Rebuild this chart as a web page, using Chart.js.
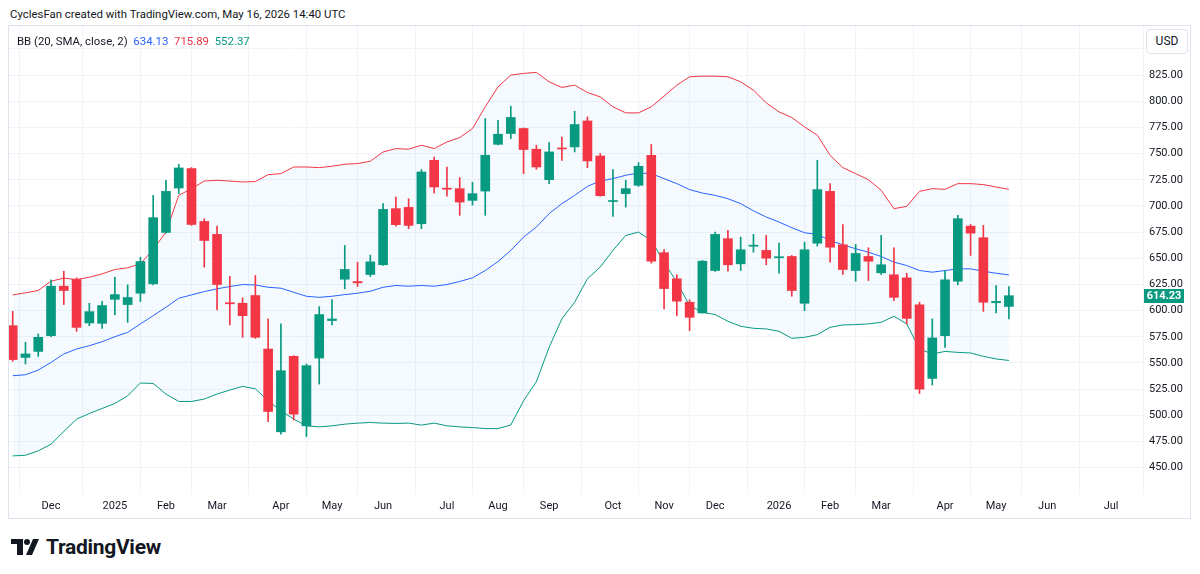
<!DOCTYPE html>
<html>
<head>
<meta charset="utf-8">
<script src="https://cdn.jsdelivr.net/npm/chart.js@4.4.1/dist/chart.umd.min.js"></script>
<style>
    body { margin: 0; width: 1200px; height: 574px; background: #fff; font-family: Roboto, sans-serif; color: #131722; position: relative; overflow: hidden; }
    #title { position: absolute; left: 10px; top: 7px; font-size: 11.4px; color: #131722; }
    #frame { position: absolute; left: 8px; top: 25px; width: 1181px; height: 492px; border: 1px solid #e0e3eb; }
    #chart-wrap { position: absolute; left: 0; top: 0; width: 1181px; height: 492px; }
    #legend { position: absolute; left: 8px; top: 8px; font-size: 11.4px; white-space: pre; }
    #usd { position: absolute; left: 1137px; top: 3px; width: 40px; height: 23px; border: 1px solid #e0e3eb; border-radius: 4px; background: #fff; font-size: 12px; line-height: 23px; text-align: center; }
    #logo { position: absolute; left: 11px; top: 535px; height: 24px; display: flex; align-items: center; }
    #logo span { font-size: 21px; font-weight: 700; margin-left: 7px; letter-spacing: -0.3px; }
</style>
</head>
<body>
<div id="title">CyclesFan created with TradingView.com, May 16, 2026 14:40 UTC</div>
<div id="frame">
    <div id="chart-wrap"><canvas id="bbChart"></canvas></div>
    <div id="legend">BB (20, SMA, close, 2)  <span style="color:#2962FF">634.13</span>  <span style="color:#F23645">715.89</span>  <span style="color:#089981">552.37</span></div>
    <div id="usd">USD</div>
</div>
<div id="logo">
    <svg width="28" height="16" viewBox="0 0 28 16">
        <path d="M0 0H12V16H6V5H0Z" fill="#131722"/>
        <circle cx="16" cy="3" r="3" fill="#131722"/>
        <path d="M22 0H28L21 16H15Z" fill="#131722"/>
    </svg>
    <span>TradingView</span>
</div>

<script>
// weekly candles, week of Nov 11 2024 (index 0) to week of May 11 2026 (index 78)
const opens = [585.6, 555.3, 561.0, 576.1, 623.3, 629.7, 588.2, 587.9, 610.8, 605.8, 616.6, 625.6, 674.7, 717.1, 735.7, 685.2, 672.8, 607.5, 607.0, 614.4,
    563.3, 484.2, 556.3, 489.9, 554.7, 590.5, 630.0, 627.8, 634.5, 643.8, 697.4, 698.6, 683.0, 743.6, 717.0, 716.5, 705.3, 714.2, 758.9, 769.2,
    774.0, 754.2, 725.1, 755.2, 756.4, 781.2, 747.7, 704.2, 711.7, 719.7, 748.4, 655.3, 630.4, 608.0, 597.8, 638.3, 668.7, 644.7, 661.5, 657.5,
    650.5, 651.7, 607.0, 664.4, 713.9, 662.9, 638.3, 651.7, 636.1, 634.2, 631.3, 605.5, 535.2, 576.1, 628.1, 680.7, 669.6, 607.5, 604.0];
const highs = [599.3, 569.7, 577.7, 629.4, 637.6, 631.3, 607.0, 608.9, 631.9, 624.6, 651.0, 710.1, 724.5, 739.8, 736.6, 687.8, 680.7, 632.6, 612.2, 633.5,
    592.1, 587.3, 556.9, 549.0, 603.8, 610.5, 662.2, 646.3, 653.0, 702.2, 708.5, 706.9, 734.7, 746.8, 737.2, 727.1, 722.6, 783.5, 781.9, 795.3,
    774.5, 758.0, 760.6, 765.9, 790.5, 785.1, 750.0, 734.7, 724.5, 741.4, 758.7, 658.4, 634.2, 610.3, 647.9, 675.0, 676.6, 670.2, 672.8, 671.8,
    664.4, 652.7, 665.4, 743.6, 721.3, 682.3, 663.2, 660.0, 671.8, 660.0, 635.7, 608.0, 592.1, 638.3, 691.0, 682.3, 681.4, 623.9, 623.0];
const lows = [551.5, 549.0, 556.3, 575.1, 605.8, 580.2, 585.6, 583.1, 596.2, 588.8, 608.6, 624.6, 674.0, 711.7, 681.4, 641.5, 600.7, 586.3, 574.5, 573.5,
    494.0, 481.9, 495.4, 479.7, 529.8, 586.3, 620.8, 623.0, 632.6, 643.1, 680.7, 678.2, 678.2, 712.3, 709.4, 691.0, 700.8, 691.0, 758.3, 764.4,
    730.9, 735.0, 721.3, 743.6, 751.6, 736.6, 709.2, 690.0, 698.9, 718.7, 645.3, 601.6, 595.2, 580.9, 597.5, 637.4, 637.6, 638.3, 655.8, 643.8,
    635.7, 613.7, 600.0, 661.6, 646.3, 634.5, 628.1, 628.7, 634.5, 609.6, 587.3, 520.8, 528.9, 564.9, 624.6, 652.7, 599.3, 597.8, 592.1];
const closes = [553.2, 558.6, 574.5, 623.3, 619.2, 584.0, 599.0, 604.8, 615.3, 612.5, 646.9, 688.8, 713.9, 736.3, 682.3, 667.0, 624.9, 606.5, 595.2, 574.5,
    503.6, 542.6, 501.1, 547.4, 596.2, 592.0, 639.3, 626.5, 646.6, 696.7, 682.1, 681.4, 732.4, 718.1, 716.0, 703.7, 711.7, 748.4, 768.5, 784.5,
    753.9, 737.2, 751.6, 754.4, 777.8, 743.0, 709.8, 705.2, 716.5, 737.9, 647.2, 621.1, 609.0, 593.6, 647.2, 672.8, 643.8, 658.1, 662.5, 650.1,
    651.5, 619.2, 658.1, 715.6, 660.6, 639.3, 654.6, 647.2, 643.8, 612.7, 592.6, 525.0, 573.9, 629.4, 687.8, 674.0, 608.0, 608.8, 614.23];

// Bollinger Bands (20, SMA, close, 2)
const bbUpper = [615.0, 617.0, 619.2, 628.1, 631.0, 629.7, 631.9, 635.1, 639.3, 640.9, 644.7, 658.4, 675.0, 710.1, 716.5, 723.8, 724.5, 723.8, 722.9, 723.3,
    729.9, 730.9, 737.2, 737.2, 736.6, 737.9, 739.8, 740.5, 742.7, 751.6, 754.8, 754.2, 758.0, 754.8, 761.1, 765.3, 774.0, 794.7, 813.8, 825.0,
    826.6, 827.6, 818.6, 813.2, 815.4, 808.4, 804.2, 794.7, 788.9, 788.9, 794.7, 804.9, 815.4, 823.4, 824.0, 824.0, 823.4, 818.6, 810.6, 798.5,
    789.9, 784.5, 775.5, 767.6, 748.4, 736.6, 730.9, 725.1, 715.0, 697.4, 699.6, 713.9, 716.5, 715.9, 721.3, 721.3, 720.4, 718.1, 715.89];
const bbBasis = [537.8, 538.7, 543.2, 550.5, 558.6, 563.3, 566.5, 570.3, 575.1, 579.2, 587.3, 595.2, 603.2, 611.8, 615.0, 618.2, 620.8, 623.0, 624.9, 624.5,
    622.3, 621.4, 617.5, 613.7, 612.7, 613.7, 615.3, 616.6, 618.5, 622.3, 624.0, 623.3, 624.0, 623.3, 624.9, 627.8, 631.3, 638.3, 646.9, 657.5,
    670.2, 679.8, 692.6, 702.2, 710.1, 718.7, 723.8, 726.1, 729.3, 731.5, 730.9, 726.1, 721.3, 715.6, 712.3, 710.1, 706.9, 702.2, 695.3, 689.4,
    684.6, 679.2, 674.4, 672.8, 667.0, 662.9, 659.1, 655.8, 651.7, 646.3, 643.1, 638.3, 636.7, 638.3, 639.9, 639.9, 637.6, 635.7, 634.13];
const bbLower = [461.2, 461.8, 466.0, 472.4, 484.5, 496.3, 501.7, 506.5, 511.3, 518.6, 530.8, 530.4, 520.3, 513.2, 513.2, 515.5, 520.3, 524.1, 527.6, 525.3,
    513.8, 504.3, 496.3, 489.9, 488.9, 489.9, 491.5, 492.5, 493.1, 492.5, 492.2, 492.5, 490.6, 492.5, 489.9, 488.9, 488.3, 487.3, 487.3, 490.7,
    513.8, 532.0, 564.9, 592.1, 608.0, 630.4, 641.5, 657.5, 671.8, 675.0, 667.0, 646.3, 627.1, 604.8, 598.4, 596.2, 589.8, 585.0, 583.1, 582.5,
    580.2, 573.5, 574.5, 577.0, 584.0, 586.3, 586.6, 587.3, 588.8, 594.6, 587.3, 563.3, 558.6, 561.0, 560.1, 559.5, 556.3, 553.8, 552.37];

// time axis: week index of the first weekly bar of each month
const monthTicks = [3, 8, 12, 16, 21, 25, 29, 34, 38, 42, 47, 51, 55, 60, 64, 68, 73, 77, 81, 86];
const monthLabels = ['Dec', '2025', 'Feb', 'Mar', 'Apr', 'May', 'Jun', 'Jul', 'Aug', 'Sep', 'Oct', 'Nov', 'Dec', '2026', 'Feb', 'Mar', 'Apr', 'May', 'Jun', 'Jul'];
const priceTicks = [450, 475, 500, 525, 550, 575, 600, 625, 650, 675, 700, 725, 750, 775, 800, 825, 850];

const UP = '#089981';
const DOWN = '#F23645';
const GRID = '#f0f3fa';

document.addEventListener('DOMContentLoaded', () => {
    createChart();
});

function candleColor(i) {
    return closes[i] >= opens[i] ? UP : DOWN;
}

// price tag for the last close on the price scale
const lastPricePlugin = {
    id: 'lastPrice',
    afterDraw(chart) {
        const { ctx, chartArea } = chart;
        const last = closes.length - 1;
        const y = chart.scales.y.getPixelForValue(closes[last]);
        ctx.save();
        ctx.fillStyle = candleColor(last);
        ctx.fillRect(chartArea.right + 1, Math.round(y) - 7, 40, 14);
        ctx.fillStyle = '#fff';
        ctx.font = 'bold 11px Roboto';
        ctx.textAlign = 'center';
        ctx.textBaseline = 'middle';
        ctx.fillText(closes[last].toFixed(2), chartArea.right + 21, Math.round(y));
        ctx.restore();
    }
};

function createChart() {
    const idx = closes.map((_, i) => i);
    const ctx = document.getElementById('bbChart').getContext('2d');

    Chart.defaults.font.family = 'Roboto';
    Chart.defaults.font.size = 11;
    Chart.defaults.color = '#131722';

    new Chart(ctx, {
        type: 'bar',
        data: {
            datasets: [
                {
                    label: 'Body',
                    data: idx.map(i => ({ x: i, y: [opens[i], closes[i]] })),
                    backgroundColor: idx.map(candleColor),
                    barThickness: 9,
                    minBarLength: 1,
                    grouped: false,
                    order: 0
                },
                {
                    label: 'Wick',
                    data: idx.map(i => ({ x: i, y: [lows[i], highs[i]] })),
                    backgroundColor: idx.map(candleColor),
                    barThickness: 1,
                    grouped: false,
                    order: 1
                },
                {
                    type: 'line',
                    label: 'Upper',
                    data: idx.map(i => ({ x: i, y: bbUpper[i] })),
                    borderColor: '#F23645',
                    borderWidth: 1,
                    pointRadius: 0,
                    order: 2
                },
                {
                    type: 'line',
                    label: 'Basis',
                    data: idx.map(i => ({ x: i, y: bbBasis[i] })),
                    borderColor: '#2962FF',
                    borderWidth: 1,
                    pointRadius: 0,
                    order: 2
                },
                {
                    type: 'line',
                    label: 'Lower',
                    data: idx.map(i => ({ x: i, y: bbLower[i] })),
                    borderColor: '#089981',
                    borderWidth: 1,
                    pointRadius: 0,
                    fill: { target: 2 },
                    backgroundColor: 'rgba(33, 150, 243, 0.05)',
                    order: 2
                }
            ]
        },
        options: {
            responsive: true,
            maintainAspectRatio: false,
            animation: false,
            layout: { padding: 0 },
            plugins: {
                legend: { display: false },
                tooltip: { enabled: false }
            },
            scales: {
                x: {
                    type: 'linear',
                    min: -0.29,
                    max: 88.5,
                    offset: false,
                    afterBuildTicks: scale => { scale.ticks = monthTicks.map(v => ({ value: v })); },
                    afterFit: scale => {
                        scale.height = 24;
                        scale.paddingLeft = 0;
                        scale.paddingRight = 0;
                    },
                    ticks: {
                        autoSkip: false,
                        maxRotation: 0,
                        padding: 6,
                        callback: (value, index) => monthLabels[index]
                    },
                    grid: { color: GRID, drawTicks: false },
                    border: { display: false }
                },
                y: {
                    position: 'right',
                    min: 424.8,
                    max: 871.9,
                    afterBuildTicks: scale => { scale.ticks = priceTicks.map(v => ({ value: v })); },
                    afterFit: scale => {
                        // keep the plot flush with the top of the frame, like TradingView
                        scale.width = 47;
                        scale.paddingTop = 0;
                        scale.paddingBottom = 0;
                    },
                    ticks: {
                        padding: 6,
                        callback: value => value > 825 ? '' : value.toFixed(2)
                    },
                    grid: { color: GRID, drawTicks: false },
                    border: { display: false }
                }
            }
        },
        plugins: [lastPricePlugin]
    });
}
</script>
</body>
</html>
